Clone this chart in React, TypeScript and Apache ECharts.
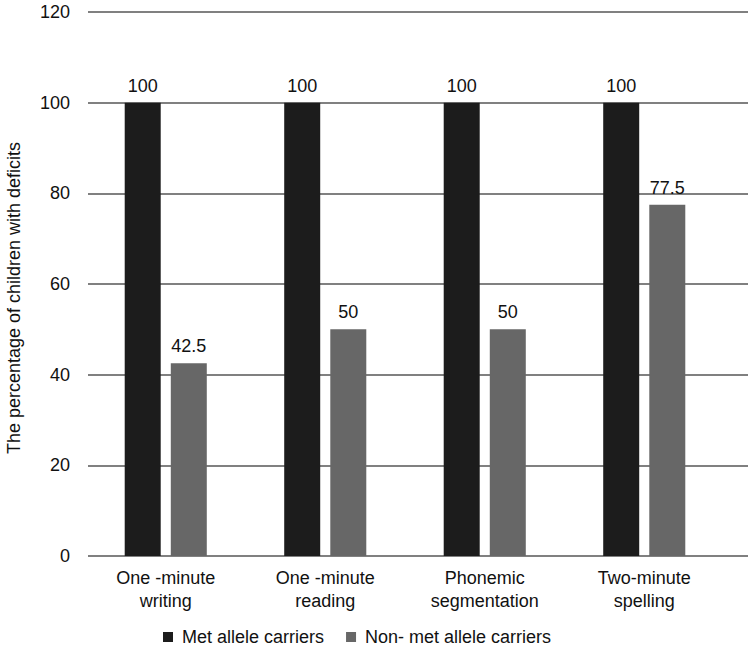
import React, { useEffect, useRef } from "react";
import * as echarts from "echarts";

const categories = [
  "One -minute\nwriting",
  "One -minute\nreading",
  "Phonemic\nsegmentation",
  "Two-minute\nspelling",
];
const metCarriers = [100, 100, 100, 100];
const nonMetCarriers = [42.5, 50, 50, 77.5];
const seriesNames = ["Met allele carriers", "Non- met allele carriers"];
const yTicks = { min: 0, max: 120, interval: 20 };
const yTitle = "The percentage of children with deficits";

const FONT = "'Liberation Sans', Arial, sans-serif";

export default function App() {
  const ref = useRef<HTMLDivElement>(null);
  useEffect(() => {
    if (!ref.current) return;
    const chart = echarts.init(ref.current, undefined, { renderer: "svg" });
    const labelCfg = {
      show: true,
      position: "top" as const,
      distance: 8,
      fontSize: 18,
      color: "#111",
      fontFamily: FONT,
    };
    chart.setOption({
      animation: false,
      textStyle: { fontFamily: FONT },
      grid: [
        { left: 86, right: 25, top: 12, bottom: 93 },
        { left: 88, right: 1, top: 12, bottom: 93 },
      ],
      legend: {
        data: seriesNames,
        left: 163,
        top: 627,
        padding: 0,
        itemWidth: 10,
        itemHeight: 10,
        itemGap: 22,
        icon: "rect",
        textStyle: { fontSize: 18, lineHeight: 20, color: "#111", fontFamily: FONT, padding: [0, 0, 0, 4] },
      },
      xAxis: [
        {
          type: "category",
          gridIndex: 0,
          data: categories,
          axisLine: { show: false },
          axisTick: { show: false },
          axisLabel: {
            interval: 0,
            margin: 10,
            fontSize: 18,
            lineHeight: 23,
            color: "#111",
            fontFamily: FONT,
          },
        },
        { type: "value", gridIndex: 1, show: false, min: 0, max: 1 },
      ],
      yAxis: [
        {
          type: "value",
          gridIndex: 0,
          ...yTicks,
          axisLine: { show: false },
          axisTick: { show: false },
          splitLine: { show: false },
          axisLabel: { margin: 16, fontSize: 18, color: "#111", fontFamily: FONT },
        },
        {
          type: "value",
          gridIndex: 1,
          ...yTicks,
          axisLine: { show: false },
          axisTick: { show: false },
          axisLabel: { show: false },
          splitLine: { show: true, lineStyle: { color: "#808080", width: 2 } },
        },
      ],
      graphic: [
        {
          type: "text",
          x: 14,
          y: 298,
          rotation: Math.PI / 2,
          style: {
            text: yTitle,
            fontSize: 18,
            fill: "#111",
            fontFamily: FONT,
            align: "center",
            verticalAlign: "middle",
          },
        },
      ],
      series: [
        {
          name: seriesNames[0],
          type: "bar",
          xAxisIndex: 0,
          yAxisIndex: 0,
          data: metCarriers,
          barWidth: 36,
          barGap: "28%",
          itemStyle: { color: "#1c1c1c" },
          label: labelCfg,
          z: 3,
        },
        {
          name: seriesNames[1],
          type: "bar",
          xAxisIndex: 0,
          yAxisIndex: 0,
          data: nonMetCarriers,
          barWidth: 36,
          barGap: "28%",
          itemStyle: { color: "#676767" },
          label: labelCfg,
          z: 3,
        },
      ],
    });
    return () => chart.dispose();
  }, []);
  return <div ref={ref} style={{ width: 749, height: 649, position: "absolute", left: 0, top: 0 }} />;
}
